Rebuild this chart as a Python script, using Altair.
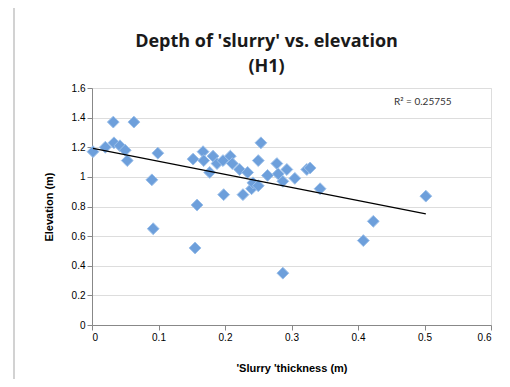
import altair as alt
import pandas as pd

thickness = [0.0015, 0.02, 0.032, 0.033, 0.042, 0.05, 0.053, 0.063, 0.09, 0.092, 0.099,
             0.152, 0.155, 0.158, 0.167, 0.168, 0.177, 0.182, 0.188, 0.197, 0.198, 0.208,
             0.211, 0.222, 0.227, 0.234, 0.24, 0.242, 0.25, 0.25, 0.254, 0.264, 0.278,
             0.28, 0.287, 0.287, 0.293, 0.305, 0.323, 0.328, 0.343, 0.408, 0.423, 0.502]
elevation = [1.17, 1.20, 1.37, 1.23, 1.21, 1.18, 1.11, 1.37, 0.98, 0.65, 1.16,
             1.12, 0.52, 0.81, 1.17, 1.11, 1.03, 1.14, 1.09, 1.11, 0.88, 1.14,
             1.09, 1.05, 0.88, 1.03, 0.92, 0.96, 0.94, 1.11, 1.23, 1.01, 1.09,
             1.02, 0.97, 0.35, 1.05, 0.99, 1.05, 1.06, 0.92, 0.57, 0.70, 0.87]

x_ticks = [0, 0.1, 0.2, 0.3, 0.4, 0.5, 0.6]
y_ticks = [0, 0.2, 0.4, 0.6, 0.8, 1.0, 1.2, 1.4, 1.6]
r2_label = ["R² = 0.25755"]
r2_pos_x = [0.454]
r2_pos_y = [1.507]

df = pd.DataFrame({"t": thickness, "e": elevation})
ann = pd.DataFrame({"t": r2_pos_x, "e": r2_pos_y, "label": r2_label})

FONT = "Lato"

xs = alt.Scale(domain=[0, 0.6], nice=False, zero=False)
ys = alt.Scale(domain=[0, 1.6], nice=False, zero=False)

X = alt.X("t:Q", scale=xs, title="'Slurry 'thickness (m)",
          axis=alt.Axis(values=x_ticks, format="~g", grid=False, titlePadding=20,
                        labelOverlap=False))
Y = alt.Y("e:Q", scale=ys, title="Elevation (m)",
          axis=alt.Axis(values=y_ticks, format="~g", grid=True, titlePadding=17,
                        tickCount=9, labelOverlap=False))

points = alt.Chart(df).mark_point(
    shape="diamond", filled=True, size=140, fill="#6d9fdb", stroke="#9cc0ea",
    strokeWidth=1, opacity=1
).encode(x=X, y=Y)

trend = alt.Chart(df).transform_regression("t", "e").mark_line(
    color="black", strokeWidth=1.2
).encode(x=X, y=Y)

r2 = alt.Chart(ann).mark_text(
    align="left", baseline="middle", font=FONT, fontSize=10, color="#333333"
).encode(x=X, y=Y, text="label:N")

frame_left = alt.Chart(ann).mark_rule(color="#d2d2d2", strokeWidth=2).encode(
    x=alt.value(-78), y=alt.value(-83), y2=alt.value(300))
frame_top = alt.Chart(ann).mark_rule(color="#d2d2d2", strokeWidth=2).encode(
    x=alt.value(-78), x2=alt.value(410), y=alt.value(-83))

chart = alt.layer(frame_left, frame_top, points, trend, r2).properties(
    width=399, height=237,
    autosize=alt.AutoSizeParams(type="none"),
    padding={"left": 84, "top": 80, "right": 3, "bottom": 54},
    title=alt.TitleParams(
        text=["Depth of 'slurry' vs. elevation", "(H1)"],
        font="Open Sans", fontSize=18, fontWeight="bold", color="#1a1a1a",
        anchor="middle", frame="group", dx=-25, offset=-72, lineHeight=25
    ),
).configure_view(stroke=None).configure_axis(
    labelFont=FONT, labelFontSize=10, labelColor="#555555",
    titleFont=FONT, titleFontSize=10, titleFontWeight="bold", titleColor="#222222",
    domainColor="#bdbdbd", domainWidth=1.5, tickColor="#bdbdbd", tickSize=5,
    gridColor="#d9d9d9", gridWidth=1.5, labelPadding=4
).configure(background="white")

chart.save("out.html", embed_options={"renderer": "svg", "actions": False})
